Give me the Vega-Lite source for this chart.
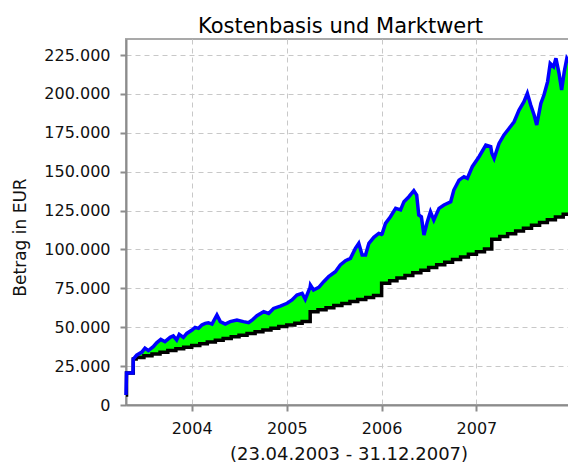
{
  "$schema": "https://vega.github.io/schema/vega-lite/v6.json",
  "width": 445,
  "height": 366,
  "autosize": "none",
  "padding": {"left": 126, "top": 39, "right": 0, "bottom": 60},
  "background": "white",
  "title": {"text": "Kostenbasis und Marktwert", "font": "DejaVu Sans", "fontSize": 21, "fontWeight": "normal", "color": "#000000", "anchor": "middle", "offset": 2, "dx": -8},
  "config": {
    "locale": {"number": {"decimal": ",", "thousands": ".", "grouping": [3], "currency": ["", " €"]}},
    "view": {"stroke": "#a9a9a9", "strokeWidth": 2},
    "axis": {
      "domainColor": "#8c8c8c", "domainWidth": 2,
      "tickColor": "#8c8c8c", "tickWidth": 2, "tickSize": 6,
      "gridColor": "#c8c8c8", "gridDash": [5, 4], "gridWidth": 1,
      "labelFont": "DejaVu Sans", "labelFontSize": 16, "labelColor": "#111111",
      "titleFont": "DejaVu Sans", "titleFontSize": 17, "titleFontWeight": "normal", "titleColor": "#111111"
    }
  },
  "datasets": {
    "mv": [
      {"date": "2003-04-23", "market": 6400, "cost": 6400},
      {"date": "2003-04-25", "market": 20500, "cost": 20500},
      {"date": "2003-05-20", "market": 20500, "cost": 20500},
      {"date": "2003-05-21", "market": 29500, "cost": 29500},
      {"date": "2003-06-03", "market": 32000, "cost": 30600},
      {"date": "2003-06-23", "market": 34000, "cost": 30600},
      {"date": "2003-07-05", "market": 36600, "cost": 31700},
      {"date": "2003-07-18", "market": 35000, "cost": 31700},
      {"date": "2003-08-06", "market": 37500, "cost": 32800},
      {"date": "2003-08-19", "market": 40000, "cost": 32800},
      {"date": "2003-09-04", "market": 42200, "cost": 33900},
      {"date": "2003-09-20", "market": 40700, "cost": 33900},
      {"date": "2003-10-10", "market": 43500, "cost": 35000},
      {"date": "2003-10-22", "market": 44400, "cost": 35000},
      {"date": "2003-11-04", "market": 41800, "cost": 36100},
      {"date": "2003-11-14", "market": 45400, "cost": 36100},
      {"date": "2003-11-30", "market": 43500, "cost": 36100},
      {"date": "2003-12-13", "market": 46000, "cost": 37200},
      {"date": "2004-01-02", "market": 48200, "cost": 38300},
      {"date": "2004-01-14", "market": 49900, "cost": 38300},
      {"date": "2004-01-27", "market": 49300, "cost": 38300},
      {"date": "2004-02-09", "market": 51400, "cost": 39400},
      {"date": "2004-02-22", "market": 52500, "cost": 39400},
      {"date": "2004-03-05", "market": 52900, "cost": 40500},
      {"date": "2004-03-19", "market": 52000, "cost": 40500},
      {"date": "2004-04-07", "market": 57900, "cost": 41600},
      {"date": "2004-04-20", "market": 53600, "cost": 41600},
      {"date": "2004-05-09", "market": 52000, "cost": 42700},
      {"date": "2004-05-28", "market": 53600, "cost": 42700},
      {"date": "2004-06-23", "market": 54600, "cost": 43800},
      {"date": "2004-07-18", "market": 53600, "cost": 44900},
      {"date": "2004-08-07", "market": 52900, "cost": 46000},
      {"date": "2004-08-20", "market": 54500, "cost": 46000},
      {"date": "2004-09-08", "market": 57400, "cost": 47100},
      {"date": "2004-10-04", "market": 60000, "cost": 48200},
      {"date": "2004-10-23", "market": 58900, "cost": 48200},
      {"date": "2004-11-11", "market": 62100, "cost": 49300},
      {"date": "2004-12-07", "market": 63600, "cost": 50400},
      {"date": "2005-01-02", "market": 65400, "cost": 51500},
      {"date": "2005-01-21", "market": 67500, "cost": 51500},
      {"date": "2005-02-09", "market": 70700, "cost": 52600},
      {"date": "2005-03-01", "market": 71800, "cost": 53700},
      {"date": "2005-03-13", "market": 67900, "cost": 53700},
      {"date": "2005-03-31", "market": 75500, "cost": 53700},
      {"date": "2005-04-01", "market": 76000, "cost": 60000},
      {"date": "2005-04-02", "market": 77100, "cost": 60000},
      {"date": "2005-04-14", "market": 73900, "cost": 60000},
      {"date": "2005-05-04", "market": 75600, "cost": 61300},
      {"date": "2005-05-23", "market": 79300, "cost": 61300},
      {"date": "2005-06-11", "market": 82500, "cost": 62600},
      {"date": "2005-07-07", "market": 85700, "cost": 63900},
      {"date": "2005-07-26", "market": 90000, "cost": 63900},
      {"date": "2005-08-15", "market": 92800, "cost": 65200},
      {"date": "2005-09-03", "market": 94300, "cost": 66500},
      {"date": "2005-09-22", "market": 100700, "cost": 66500},
      {"date": "2005-10-05", "market": 103900, "cost": 67800},
      {"date": "2005-10-18", "market": 96400, "cost": 67800},
      {"date": "2005-10-31", "market": 96400, "cost": 67800},
      {"date": "2005-11-13", "market": 103900, "cost": 69100},
      {"date": "2005-12-02", "market": 107800, "cost": 70400},
      {"date": "2005-12-21", "market": 110300, "cost": 70400},
      {"date": "2005-12-31", "market": 109800, "cost": 70400},
      {"date": "2006-01-01", "market": 109700, "cost": 78200},
      {"date": "2006-01-03", "market": 110000, "cost": 78200},
      {"date": "2006-01-16", "market": 116800, "cost": 78200},
      {"date": "2006-02-04", "market": 121000, "cost": 79900},
      {"date": "2006-02-24", "market": 126400, "cost": 79900},
      {"date": "2006-03-15", "market": 125400, "cost": 81600},
      {"date": "2006-03-28", "market": 130700, "cost": 81600},
      {"date": "2006-04-16", "market": 133900, "cost": 83300},
      {"date": "2006-05-05", "market": 137800, "cost": 85000},
      {"date": "2006-05-16", "market": 135000, "cost": 85000},
      {"date": "2006-05-24", "market": 122100, "cost": 85000},
      {"date": "2006-06-03", "market": 121000, "cost": 86700},
      {"date": "2006-06-13", "market": 109300, "cost": 86700},
      {"date": "2006-06-26", "market": 117900, "cost": 86700},
      {"date": "2006-07-08", "market": 124300, "cost": 88400},
      {"date": "2006-07-21", "market": 118900, "cost": 88400},
      {"date": "2006-08-10", "market": 126400, "cost": 90100},
      {"date": "2006-08-29", "market": 128600, "cost": 90100},
      {"date": "2006-09-24", "market": 130700, "cost": 91800},
      {"date": "2006-10-06", "market": 138200, "cost": 93500},
      {"date": "2006-10-26", "market": 144600, "cost": 93500},
      {"date": "2006-11-14", "market": 146800, "cost": 95200},
      {"date": "2006-11-27", "market": 145700, "cost": 95200},
      {"date": "2006-12-16", "market": 153200, "cost": 96900},
      {"date": "2007-01-11", "market": 159600, "cost": 98600},
      {"date": "2007-02-06", "market": 167100, "cost": 100300},
      {"date": "2007-02-25", "market": 166100, "cost": 100300},
      {"date": "2007-02-28", "market": 163000, "cost": 100300},
      {"date": "2007-03-01", "market": 162000, "cost": 106500},
      {"date": "2007-03-10", "market": 158600, "cost": 106500},
      {"date": "2007-03-29", "market": 168200, "cost": 106500},
      {"date": "2007-04-17", "market": 173600, "cost": 108300},
      {"date": "2007-05-07", "market": 177900, "cost": 110100},
      {"date": "2007-05-26", "market": 182100, "cost": 110100},
      {"date": "2007-06-14", "market": 189600, "cost": 111900},
      {"date": "2007-07-03", "market": 195000, "cost": 113700},
      {"date": "2007-07-16", "market": 200400, "cost": 113700},
      {"date": "2007-07-29", "market": 192900, "cost": 113700},
      {"date": "2007-08-11", "market": 186400, "cost": 115500},
      {"date": "2007-08-21", "market": 180000, "cost": 115500},
      {"date": "2007-09-06", "market": 193900, "cost": 117300},
      {"date": "2007-09-18", "market": 199300, "cost": 117300},
      {"date": "2007-10-02", "market": 207900, "cost": 119100},
      {"date": "2007-10-12", "market": 219600, "cost": 119100},
      {"date": "2007-10-25", "market": 217500, "cost": 119100},
      {"date": "2007-11-03", "market": 222900, "cost": 120900},
      {"date": "2007-11-15", "market": 213200, "cost": 120900},
      {"date": "2007-11-25", "market": 202500, "cost": 120900},
      {"date": "2007-12-05", "market": 214300, "cost": 122700},
      {"date": "2007-12-15", "market": 222900, "cost": 122700},
      {"date": "2007-12-31", "market": 219000, "cost": 122700}
    ],
    "cost": [
      {"date": "2003-04-23", "cost": 6400},
      {"date": "2003-04-25", "cost": 20500},
      {"date": "2003-05-21", "cost": 29500},
      {"date": "2003-06-01", "cost": 30600},
      {"date": "2003-07-01", "cost": 31700},
      {"date": "2003-08-01", "cost": 32800},
      {"date": "2003-09-01", "cost": 33900},
      {"date": "2003-10-01", "cost": 35000},
      {"date": "2003-11-01", "cost": 36100},
      {"date": "2003-12-01", "cost": 37200},
      {"date": "2004-01-01", "cost": 38300},
      {"date": "2004-02-01", "cost": 39400},
      {"date": "2004-03-01", "cost": 40500},
      {"date": "2004-04-01", "cost": 41600},
      {"date": "2004-05-01", "cost": 42700},
      {"date": "2004-06-01", "cost": 43800},
      {"date": "2004-07-01", "cost": 44900},
      {"date": "2004-08-01", "cost": 46000},
      {"date": "2004-09-01", "cost": 47100},
      {"date": "2004-10-01", "cost": 48200},
      {"date": "2004-11-01", "cost": 49300},
      {"date": "2004-12-01", "cost": 50400},
      {"date": "2005-01-01", "cost": 51500},
      {"date": "2005-02-01", "cost": 52600},
      {"date": "2005-03-01", "cost": 53700},
      {"date": "2005-04-01", "cost": 60000},
      {"date": "2005-05-01", "cost": 61300},
      {"date": "2005-06-01", "cost": 62600},
      {"date": "2005-07-01", "cost": 63900},
      {"date": "2005-08-01", "cost": 65200},
      {"date": "2005-09-01", "cost": 66500},
      {"date": "2005-10-01", "cost": 67800},
      {"date": "2005-11-01", "cost": 69100},
      {"date": "2005-12-01", "cost": 70400},
      {"date": "2006-01-01", "cost": 78200},
      {"date": "2006-02-01", "cost": 79900},
      {"date": "2006-03-01", "cost": 81600},
      {"date": "2006-04-01", "cost": 83300},
      {"date": "2006-05-01", "cost": 85000},
      {"date": "2006-06-01", "cost": 86700},
      {"date": "2006-07-01", "cost": 88400},
      {"date": "2006-08-01", "cost": 90100},
      {"date": "2006-09-01", "cost": 91800},
      {"date": "2006-10-01", "cost": 93500},
      {"date": "2006-11-01", "cost": 95200},
      {"date": "2006-12-01", "cost": 96900},
      {"date": "2007-01-01", "cost": 98600},
      {"date": "2007-02-01", "cost": 100300},
      {"date": "2007-03-01", "cost": 106500},
      {"date": "2007-04-01", "cost": 108300},
      {"date": "2007-05-01", "cost": 110100},
      {"date": "2007-06-01", "cost": 111900},
      {"date": "2007-07-01", "cost": 113700},
      {"date": "2007-08-01", "cost": 115500},
      {"date": "2007-09-01", "cost": 117300},
      {"date": "2007-10-01", "cost": 119100},
      {"date": "2007-11-01", "cost": 120900},
      {"date": "2007-12-01", "cost": 122700},
      {"date": "2007-12-31", "cost": 122700}
    ]
  },
  "layer": [
    {
      "data": {"name": "mv"},
      "mark": {"type": "area", "color": "#00ff00", "opacity": 1},
      "encoding": {
        "x": {
          "field": "date", "type": "temporal", "title": "(23.04.2003 - 31.12.2007)",
          "scale": {"type": "utc", "domain": [{"year": 2003, "month": 4, "date": 23, "utc": true}, {"year": 2007, "month": 12, "date": 31, "utc": true}]},
          "axis": {
            "values": [{"year": 2004, "month": 1, "date": 1, "utc": true}, {"year": 2005, "month": 1, "date": 1, "utc": true}, {"year": 2006, "month": 1, "date": 1, "utc": true}, {"year": 2007, "month": 1, "date": 1, "utc": true}],
            "format": "%Y", "formatType": "utc", "labelPadding": 9, "titlePadding": 9, "titleFontSize": 18
          }
        },
        "y": {
          "field": "market", "type": "quantitative", "title": "Betrag in EUR",
          "scale": {"domain": [0, 235300], "nice": false, "zero": true},
          "axis": {"values": [0, 25000, 50000, 75000, 100000, 125000, 150000, 175000, 200000, 225000], "format": ",d", "labelPadding": 10, "titlePadding": 14, "titleY": 198}
        },
        "y2": {"field": "cost"}
      }
    },
    {
      "data": {"name": "cost"},
      "mark": {"type": "line", "color": "#000000", "strokeWidth": 3.5, "interpolate": "step-after"},
      "encoding": {
        "x": {"field": "date", "type": "temporal", "title": "(23.04.2003 - 31.12.2007)"},
        "y": {"field": "cost", "type": "quantitative", "title": "Betrag in EUR"}
      }
    },
    {
      "data": {"name": "mv"},
      "mark": {"type": "line", "color": "#0000ff", "strokeWidth": 3.5},
      "encoding": {
        "x": {"field": "date", "type": "temporal", "title": "(23.04.2003 - 31.12.2007)"},
        "y": {"field": "market", "type": "quantitative", "title": "Betrag in EUR"}
      }
    }
  ]
}
